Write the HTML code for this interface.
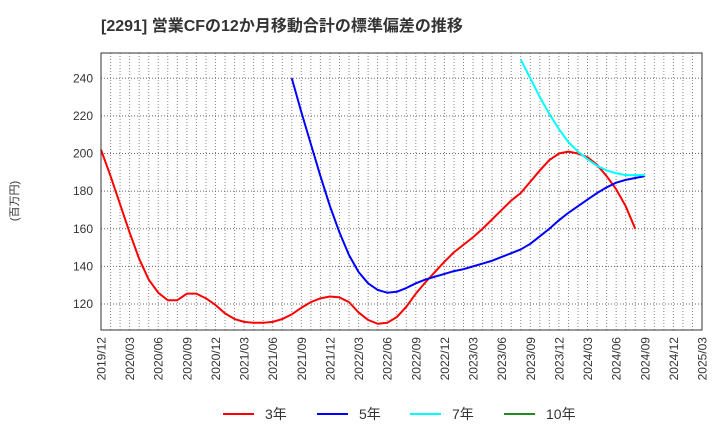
<!DOCTYPE html>
<html><head><meta charset="utf-8"><style>
body{margin:0;background:#fff;width:720px;height:440px;overflow:hidden}
svg{font-family:"Liberation Sans","Noto Sans CJK JP",sans-serif}
</style></head><body>
<svg id="c" width="720" height="440">
<text x="101" y="31" font-size="16" font-weight="bold" fill="#333">[2291]  営業CFの12か月移動合計の標準偏差の推移</text>
<text transform="translate(18,201) rotate(-90)" font-size="11" fill="#333" text-anchor="middle">(百万円)</text>
<g id="grid"></g><g id="series"></g>
<rect x="101" y="53" width="601" height="277" fill="none" stroke="#333" stroke-width="1"/>
<g id="legend"></g>
</svg>
<script>
const startLabel = "2019/12";
const xTicks = ["2019/12","2020/03","2020/06","2020/09","2020/12","2021/03","2021/06","2021/09","2021/12","2022/03","2022/06","2022/09","2022/12","2023/03","2023/06","2023/09","2023/12","2024/03","2024/06","2024/09","2024/12","2025/03"];
const yTicks = [120,140,160,180,200,220,240];
const s3 = [202,188,173,158,144,133,126,122,122,125.5,125.5,123,119.5,115,112,110.5,110,110,110.5,112,114.5,118,121,123,124,123.5,121,115.5,111.5,109.5,110,113,118.5,125.5,131.5,137,142.5,147.5,151.5,155.5,160,165,170,175,179,185,191,196.5,200,201,200,198,194,188,181,172,160];
const s3Start = 0;
const s5 = [240,222,205,188,172,158,146,137,131,127.5,126,126.5,128.5,131,133,134.5,136,137.5,138.5,140,141.5,143,145,147,149,152,156,160,164.5,168.5,172,175.5,179,182,184.5,186,187,188];
const s5Start = 20;
const s7 = [250,240,230,221,213,206,201,197,193.5,191,189.5,188.5,188.5,188.5];
const s7Start = 44;
const s10 = [];
const s10Start = 0;

const NS="http://www.w3.org/2000/svg";
const X0=101,X1=702,Y0=53,Y1=330,NM=63;
const x=m=>X0+(X1-X0)*m/NM;
const y=v=>304-(v-120)*1.881;
function mk(t,a,p){const e=document.createElementNS(NS,t);for(const k in a)e.setAttribute(k,a[k]);p.appendChild(e);return e;}
const grid=document.getElementById('grid');
for(let m=1;m<NM;m++){
  const l=mk('line',{x1:x(m),x2:x(m),y1:Y0,y2:Y1,stroke:'#888','stroke-dasharray':'1,2','stroke-width':1},grid);
  
  
}
yTicks.forEach(v=>{
  const l=mk('line',{x1:X0,x2:X1,y1:y(v),y2:y(v),stroke:'#666','stroke-dasharray':'1,2','stroke-width':1},grid);
  
  
  const t=mk('text',{x:X0-8,y:y(v)+4,'font-size':12,fill:'#333','text-anchor':'end'},grid);
  t.textContent=v;
  
  
});
xTicks.forEach((lab,i)=>{
  const t=mk('text',{transform:`translate(${x(i*3)+4.5},337) rotate(-90)`,'font-size':12,fill:'#333','text-anchor':'end'},grid);
  t.textContent=lab;
  
  
});
const ser=document.getElementById('series');
[[s3,s3Start,'#ff0000','series-3y'],[s5,s5Start,'#0000ff','series-5y'],[s7,s7Start,'#00ffff','series-7y'],[s10,s10Start,'#228b22','series-10y']].forEach(([d,st,c,n])=>{
  if(!d.length)return;
  const p=mk('polyline',{points:d.map((v,i)=>x(st+i)+','+y(v)).join(' '),fill:'none',stroke:c,'stroke-width':2,'stroke-linejoin':'round'},ser);
  
  
});
const leg=document.getElementById('legend');
[[223,'#ff0000','3年'],[317,'#0000ff','5年'],[410,'#00ffff','7年'],[504,'#228b22','10年']].forEach(([lx,c,lab])=>{
  const g=mk('g',{},leg);
  
  
  mk('line',{x1:lx,x2:lx+31,y1:414,y2:414,stroke:c,'stroke-width':2},g);
  const t=mk('text',{x:lx+42,y:419,'font-size':14,fill:'#333'},g);
  t.textContent=lab;
});
</script>
</body></html>
